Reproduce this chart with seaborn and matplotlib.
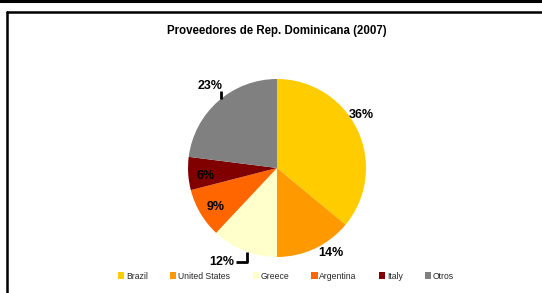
import numpy as np
import seaborn as sns
import matplotlib.pyplot as plt
from matplotlib.lines import Line2D

# Data
countries = ['Brazil', 'United States', 'Greece', 'Argentina', 'Italy', 'Otros']
shares = [36, 14, 12, 9, 6, 23]
colors = ['#FFCC00', '#FF9900', '#FFFFCC', '#FF6600', '#800000', '#808080']

# label placement (radius, angle offset in degrees)
label_r = [1.12, 1.13, 1.23, 0.82, 0.81, 1.19]
label_off = [7, 7, -9, 1.6, 2.7, -2]

sns.set_style("white")
plt.rcParams['font.family'] = ['Liberation Sans', 'DejaVu Sans']

fig = plt.figure(figsize=(5.42, 2.93), dpi=100)

# frame lines like the spreadsheet export
fig.add_artist(Line2D([0, 1], [0.995, 0.995], color='black', lw=2.2,
                      transform=fig.transFigure))
fig.add_artist(Line2D([0.012, 1], [0.958, 0.958], color='black', lw=1.8,
                      transform=fig.transFigure))
fig.add_artist(Line2D([0.012, 0.012], [0.958, 0], color='black', lw=1.8,
                      transform=fig.transFigure))

fig.text(0.511, 0.895, 'Proveedores de Rep. Dominicana (2007)', ha='center',
         va='center', fontsize=8.3, fontweight='bold', color='black')

ax = fig.add_axes([0.3469, 0.1229, 0.3284, 0.6075])
wedges, _ = ax.pie(shares, colors=sns.color_palette(colors), startangle=90,
                   counterclock=False, radius=1.0,
                   wedgeprops=dict(linewidth=0))
ax.set_xlim(-1, 1)
ax.set_ylim(-1, 1)
ax.set_aspect('equal')
ax.axis('off')

for w, v, r, off in zip(wedges, shares, label_r, label_off):
    mid = np.deg2rad((w.theta1 + w.theta2) / 2 + off)
    ax.text(r * np.cos(mid), r * np.sin(mid), f'{v}%', ha='center',
            va='center', fontsize=9, fontweight='bold', color='black',
            clip_on=False)

# leader lines for Greece and Otros
g = wedges[2]
a = np.deg2rad((g.theta1 + g.theta2) / 2 + 2)
gx, gy = np.cos(a), np.sin(a)
ax.plot([gx, gx, gx - 0.13], [gy, gy - 0.11, gy - 0.11], color='black',
        lw=2, clip_on=False, solid_capstyle='butt')
o = wedges[5]
a = np.deg2rad((o.theta1 + o.theta2) / 2 - 2)
ox, oy = np.cos(a), np.sin(a)
ax.plot([ox, ox], [oy, oy + 0.09], color='black', lw=2, clip_on=False,
        solid_capstyle='butt')

fig.legend(wedges, countries, loc='center', bbox_to_anchor=(0.528, 0.058),
           ncol=6, frameon=False, fontsize=6.2, handlelength=0.7,
           handleheight=0.7, handletextpad=0.2, columnspacing=2.6)

fig.savefig('out.png', dpi=100)
